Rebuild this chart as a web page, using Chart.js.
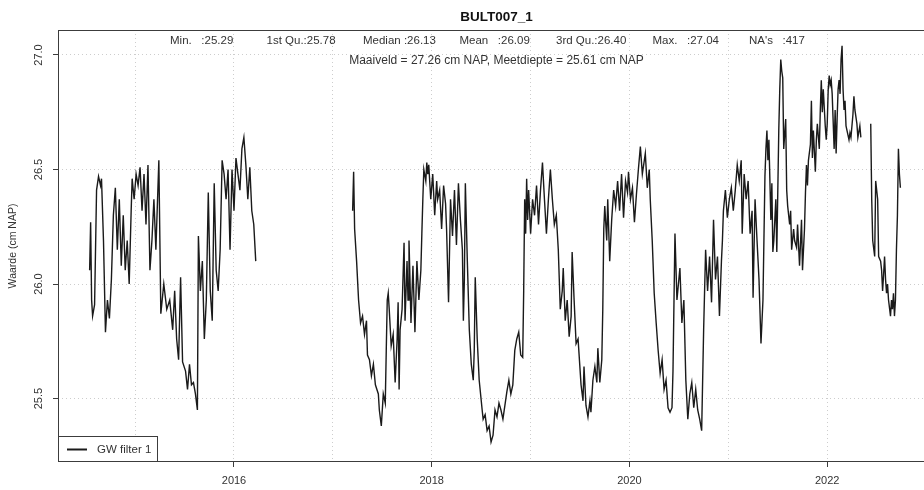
<!DOCTYPE html>
<html lang="nl">
  <head>
    <meta charset="UTF-8" />
    <title>BULT007_1</title>
    <style>
      html,
      body {
        margin: 0;
        padding: 0;
        background: #fff;
        overflow: hidden;
      }
      #wrap {
        width: 936px;
        height: 490px;
      }
    </style>
  </head>
  <body>
    <div id="wrap"><canvas id="gwChart" width="936" height="490"></canvas></div>

    <script src="https://cdn.jsdelivr.net/npm/chart.js@4.4.0/dist/chart.umd.min.js"></script>
    <script>
      const yearsA = [
        2014.54, 2014.55, 2014.56, 2014.57, 2014.59, 2014.61, 2014.63, 2014.65, 2014.66, 2014.68,
        2014.70, 2014.72, 2014.74, 2014.76, 2014.78, 2014.80, 2014.82, 2014.84, 2014.86, 2014.88,
        2014.90, 2014.92, 2014.94, 2014.96, 2014.97, 2014.99, 2015.01, 2015.03, 2015.05, 2015.07,
        2015.09, 2015.11, 2015.13, 2015.15, 2015.17, 2015.19, 2015.21, 2015.24, 2015.26, 2015.29,
        2015.32, 2015.35, 2015.38, 2015.40, 2015.42, 2015.44, 2015.46, 2015.48, 2015.51, 2015.53,
        2015.55, 2015.57, 2015.59, 2015.61, 2015.63, 2015.64, 2015.66, 2015.68, 2015.70, 2015.72,
        2015.74, 2015.76, 2015.78, 2015.80, 2015.82, 2015.84, 2015.86, 2015.88, 2015.90, 2015.92,
        2015.94, 2015.96, 2015.98, 2016.00, 2016.02, 2016.04, 2016.06, 2016.08, 2016.10, 2016.12,
        2016.14, 2016.16, 2016.18, 2016.20, 2016.22
      ];
      const valuesA = [
        26.06, 26.27, 25.93, 25.86, 25.91, 26.41, 26.47, 26.43, 26.46, 26.19,
        25.79, 25.93, 25.85, 26.02, 26.30, 26.42, 26.15, 26.37, 26.08, 26.30,
        26.06, 26.19, 26.00, 26.32, 26.46, 26.37, 26.48, 26.43, 26.51, 26.32,
        26.48, 26.26, 26.52, 26.06, 26.19, 26.37, 26.15, 26.54, 25.87, 26.00,
        25.89, 25.93, 25.80, 25.97, 25.76, 25.67, 26.03, 25.66, 25.62, 25.54,
        25.65, 25.56, 25.57, 25.52, 25.45, 26.21, 25.97, 26.10, 25.76, 25.93,
        26.40, 25.97, 25.84, 26.44, 26.06, 25.97, 26.15, 26.54, 26.48, 26.37,
        26.50, 26.15, 26.50, 26.32, 26.55, 26.48, 26.41, 26.59, 26.64, 26.52,
        26.37, 26.51, 26.32, 26.26, 26.10
      ];

      const yearsB = [
        2017.20, 2017.21, 2017.22, 2017.24, 2017.26, 2017.28, 2017.30, 2017.32, 2017.34, 2017.35,
        2017.37, 2017.39, 2017.41, 2017.43, 2017.46, 2017.47, 2017.49, 2017.51, 2017.53, 2017.54,
        2017.55, 2017.56, 2017.57, 2017.59, 2017.61, 2017.63, 2017.65, 2017.66, 2017.67, 2017.68,
        2017.70, 2017.72, 2017.73, 2017.75, 2017.76, 2017.77, 2017.78, 2017.79, 2017.81, 2017.83,
        2017.85, 2017.87, 2017.89, 2017.90, 2017.91, 2017.92, 2017.94, 2017.95, 2017.96, 2017.97,
        2017.99, 2018.01, 2018.03, 2018.05, 2018.06, 2018.08, 2018.10, 2018.12, 2018.14, 2018.15,
        2018.17, 2018.19, 2018.21, 2018.23, 2018.25, 2018.27, 2018.29, 2018.31, 2018.32, 2018.33,
        2018.34, 2018.36, 2018.38, 2018.40, 2018.42, 2018.43, 2018.44, 2018.46, 2018.48, 2018.51,
        2018.52, 2018.54, 2018.56, 2018.58, 2018.60, 2018.62, 2018.64, 2018.66, 2018.68, 2018.70,
        2018.72, 2018.74, 2018.76, 2018.78, 2018.80, 2018.82, 2018.84, 2018.86, 2018.88, 2018.90,
        2018.92, 2018.93, 2018.94, 2018.95, 2018.96, 2018.97, 2018.98, 2019.00, 2019.02, 2019.04,
        2019.06, 2019.08, 2019.10, 2019.12, 2019.14, 2019.16, 2019.18, 2019.20, 2019.22, 2019.24,
        2019.26, 2019.28, 2019.30, 2019.32, 2019.33, 2019.35, 2019.37, 2019.39, 2019.41, 2019.42,
        2019.44, 2019.46, 2019.48, 2019.51, 2019.53, 2019.54, 2019.56, 2019.58, 2019.60, 2019.61,
        2019.63, 2019.65, 2019.67, 2019.68, 2019.70, 2019.72, 2019.73, 2019.74, 2019.75, 2019.77,
        2019.78, 2019.80, 2019.82, 2019.84, 2019.86, 2019.88, 2019.90, 2019.92, 2019.94, 2019.96,
        2019.98, 2019.99, 2020.01, 2020.03, 2020.05, 2020.07, 2020.09, 2020.11, 2020.13, 2020.15,
        2020.16, 2020.18, 2020.20, 2020.21, 2020.23, 2020.25, 2020.27, 2020.29, 2020.31, 2020.33,
        2020.35, 2020.37, 2020.39, 2020.41, 2020.43, 2020.44, 2020.46, 2020.48, 2020.51, 2020.53,
        2020.55, 2020.57, 2020.59, 2020.61, 2020.63, 2020.65, 2020.67, 2020.69, 2020.71, 2020.73,
        2020.75, 2020.77, 2020.79, 2020.81, 2020.83, 2020.85, 2020.87, 2020.89, 2020.91, 2020.93,
        2020.94, 2020.95, 2020.97, 2020.99, 2021.01, 2021.03, 2021.05, 2021.07, 2021.09, 2021.11,
        2021.13, 2021.14, 2021.16, 2021.18, 2021.20, 2021.22, 2021.24, 2021.25, 2021.27, 2021.29,
        2021.31, 2021.33, 2021.35, 2021.37, 2021.38, 2021.39, 2021.40, 2021.41, 2021.43, 2021.44,
        2021.45, 2021.46, 2021.48, 2021.49, 2021.51, 2021.52, 2021.53, 2021.54, 2021.55, 2021.56,
        2021.58, 2021.59, 2021.60, 2021.62, 2021.63, 2021.64, 2021.66, 2021.67, 2021.69, 2021.70,
        2021.72, 2021.74, 2021.75, 2021.77, 2021.78, 2021.79, 2021.80, 2021.81, 2021.83, 2021.84,
        2021.85, 2021.86, 2021.88, 2021.89, 2021.90, 2021.92, 2021.93, 2021.94, 2021.95, 2021.96,
        2021.98, 2021.99, 2022.00, 2022.01, 2022.02, 2022.03, 2022.04, 2022.05, 2022.07, 2022.08,
        2022.09, 2022.10, 2022.11, 2022.12, 2022.13, 2022.14, 2022.15, 2022.16, 2022.17, 2022.18,
        2022.19, 2022.21, 2022.22, 2022.23, 2022.24, 2022.26, 2022.27, 2022.28, 2022.30, 2022.31,
        2022.33, 2022.34
      ];
      const valuesB = [
        26.32, 26.49, 26.24, 26.10, 25.93, 25.83, 25.86, 25.78, 25.84, 25.69,
        25.67, 25.60, 25.65, 25.56, 25.52, 25.45, 25.38, 25.52, 25.48, 25.71,
        25.93, 25.96, 25.89, 25.73, 25.78, 25.57, 25.76, 25.92, 25.54, 25.80,
        25.89, 26.18, 25.84, 26.10, 25.93, 26.19, 26.02, 25.83, 26.08, 25.79,
        26.10, 25.93, 26.06, 26.22, 26.37, 26.50, 26.45, 26.53, 26.48, 26.52,
        26.37, 26.48, 26.30, 26.45, 26.37, 26.41, 26.24, 26.43, 26.35, 26.24,
        25.92, 26.37, 26.21, 26.41, 26.17, 26.44, 26.28, 26.15, 25.84, 26.02,
        26.44, 26.10, 25.80, 25.65, 25.58, 25.71, 26.03, 25.76, 25.58, 25.45,
        25.41, 25.43, 25.36, 25.38, 25.31, 25.34, 25.45, 25.42, 25.48, 25.45,
        25.41, 25.47, 25.53, 25.58, 25.52, 25.56, 25.71, 25.76, 25.79, 25.69,
        25.68, 25.97, 26.37, 26.22, 26.46, 26.28, 26.41, 26.22, 26.37, 26.30,
        26.43, 26.26, 26.41, 26.53, 26.37, 26.22, 26.37, 26.50, 26.37, 26.26,
        26.30, 26.15, 25.89, 25.97, 26.07, 25.84, 25.93, 25.77, 25.86, 26.14,
        25.93, 25.74, 25.76, 25.56, 25.49, 25.64, 25.47, 25.42, 25.49, 25.44,
        25.58, 25.64, 25.57, 25.72, 25.57, 25.67, 25.89, 26.24, 26.34, 26.19,
        26.37, 26.10, 26.28, 26.41, 26.34, 26.45, 26.32, 26.48, 26.29, 26.45,
        26.40, 26.49, 26.37, 26.42, 26.27, 26.39, 26.50, 26.60, 26.48, 26.54,
        26.57, 26.42, 26.50, 26.37, 26.19, 25.96, 25.83, 25.71, 25.61, 25.67,
        25.54, 25.58, 25.46, 25.44, 25.46, 25.62, 26.22, 25.93, 26.07, 25.83,
        25.93, 25.58, 25.41, 25.52, 25.57, 25.46, 25.54, 25.45, 25.41, 25.36,
        25.80, 26.15, 25.97, 26.12, 25.92, 26.28, 26.02, 26.12, 25.86, 26.10,
        26.19, 26.32, 26.41, 26.29, 26.37, 26.42, 26.32, 26.41, 26.52, 26.45,
        26.54, 26.22, 26.48, 26.37, 26.45, 26.22, 26.32, 25.94, 26.37, 26.19,
        26.02, 25.74, 25.93, 26.47, 26.59, 26.67, 26.54, 26.63, 26.28, 26.44,
        26.14, 26.19, 26.37, 26.14, 26.67, 26.85, 26.98, 26.93, 26.90, 26.59,
        26.72, 26.41, 26.34, 26.26, 26.32, 26.15, 26.24, 26.19, 26.16, 26.26,
        26.08, 26.28, 26.06, 26.24, 26.40, 26.52, 26.43, 26.54, 26.61, 26.80,
        26.55, 26.67, 26.49, 26.63, 26.70, 26.59, 26.76, 26.89, 26.75, 26.85,
        26.69, 26.63, 26.70, 26.85, 26.91, 26.87, 26.89, 26.83, 26.59, 26.76,
        26.57, 26.72, 26.85, 26.89, 26.83, 26.98, 27.04, 26.85, 26.76, 26.80,
        26.69, 26.65, 26.63, 26.66, 26.64, 26.74, 26.82, 26.76, 26.70, 26.64,
        26.69, 26.64
      ];

      const yearsC = [
        2022.44, 2022.45, 2022.46, 2022.48, 2022.49, 2022.51, 2022.52, 2022.54, 2022.55, 2022.56,
        2022.57, 2022.58, 2022.59, 2022.60, 2022.61, 2022.62, 2022.64, 2022.65, 2022.66, 2022.67,
        2022.68, 2022.69, 2022.70, 2022.71, 2022.72, 2022.73, 2022.74
      ];
      const valuesC = [
        26.70, 26.37, 26.19, 26.12, 26.45, 26.37, 26.12, 26.10, 26.06, 25.97,
        26.04, 26.12, 26.02, 25.96, 26.00, 25.93, 25.86, 25.93, 25.89, 25.96,
        25.86, 25.93, 26.15, 26.30, 26.59, 26.48, 26.42
      ];

      const yearTicks = [2015, 2016, 2017, 2018, 2019, 2020, 2021, 2022];
      const valueTicks = [25.5, 26.0, 26.5, 27.0];

      const summaryLabels = ["Min.", "1st Qu.", "Median", "Mean", "3rd Qu.", "Max.", "NA's"];
      const summaryValues = ["25.29", "25.78", "26.13", "26.09", "26.40", "27.04", "417"];

      const chartTitle = "BULT007_1";
      const subTitle = "Maaiveld = 27.26 cm NAP, Meetdiepte = 25.61 cm NAP";
      const seriesLabel = "GW filter 1";

      const FONT = "'Liberation Sans', Arial, sans-serif";
      Chart.defaults.font.family = FONT;

      // glue the stretches together, a null point between them breaks the line
      const toPoints = (xs, ys) => xs.map((x, i) => ({ x: x, y: ys[i] }));
      const points = [].concat(
        toPoints(yearsA, valuesA),
        [{ x: 2016.7, y: null }],
        toPoints(yearsB, valuesB),
        [{ x: 2022.39, y: null }],
        toPoints(yearsC, valuesC)
      );

      // R-ish decorations: box, title, summary text, legend
      const rFrame = {
        id: "rFrame",
        afterDraw(chart) {
          const ctx = chart.ctx;
          const a = chart.chartArea;
          const mid = (a.left + a.right) / 2;
          ctx.save();

          ctx.strokeStyle = "#3c3c3c";
          ctx.lineWidth = 1;
          ctx.strokeRect(a.left + 0.5, a.top + 0.5, a.right - a.left - 1, a.bottom - a.top - 1);

          ctx.fillStyle = "#111";
          ctx.textAlign = "center";
          ctx.textBaseline = "middle";
          ctx.font = "bold 13.5px " + FONT;
          ctx.fillText(chartTitle, mid, 17);

          ctx.fillStyle = "#333";
          ctx.font = "11.5px " + FONT;
          ctx.textAlign = "left";
          summaryLabels.forEach((lab, i) => {
            ctx.fillText(lab.padEnd(7, " ") + ":" + summaryValues[i], a.left + 112 + i * 96.5, 41);
          });

          ctx.font = "12px " + FONT;
          ctx.textAlign = "center";
          ctx.fillText(subTitle, mid, 61);

          // legend box in the lower left corner
          const lx = a.left, ly = a.bottom - 26;
          ctx.fillStyle = "#fff";
          ctx.fillRect(lx + 0.5, ly + 0.5, 99, 25);
          ctx.strokeStyle = "#3c3c3c";
          ctx.lineWidth = 1;
          ctx.strokeRect(lx + 0.5, ly + 0.5, 99, 25);
          ctx.strokeStyle = "#1a1a1a";
          ctx.lineWidth = 2;
          ctx.beginPath();
          ctx.moveTo(lx + 9, ly + 13.5);
          ctx.lineTo(lx + 29, ly + 13.5);
          ctx.stroke();
          ctx.fillStyle = "#333";
          ctx.textAlign = "left";
          ctx.font = "11.5px " + FONT;
          ctx.fillText(chart.data.datasets[0].label, lx + 39, ly + 14);

          ctx.restore();
        },
      };

      new Chart("gwChart", {
        type: "line",
        data: {
          datasets: [
            {
              label: seriesLabel,
              data: points,
              borderColor: "#1a1a1a",
              borderWidth: 1.4,
              pointRadius: 0,
              tension: 0,
              spanGaps: false,
            },
          ],
        },
        options: {
          responsive: false,
          animation: false,
          devicePixelRatio: 1,
          layout: { padding: { top: 30, right: 1, left: 0, bottom: 0 } },
          plugins: {
            legend: { display: false },
            tooltip: { enabled: false },
          },
          scales: {
            x: {
              type: "linear",
              min: 2014.22,
              max: 2023.09,
              afterBuildTicks: (s) => {
                s.ticks = yearTicks.map((v) => ({ value: v }));
              },
              afterFit: (s) => {
                s.height = 28;
              },
              ticks: {
                autoSkip: false,
                maxRotation: 0,
                padding: 7,
                color: "#333",
                font: { size: 11 },
                callback: (v) => (v % 2 === 0 ? String(v) : ""),
              },
              grid: {
                color: "#cdcdcd",
                tickLength: 5,
                tickColor: (c) =>
                  c.tick && c.tick.value % 2 === 0 ? "#3c3c3c" : "rgba(0,0,0,0)",
              },
              border: { display: false, dash: [1, 3] },
            },
            y: {
              min: 25.223,
              max: 27.109,
              afterBuildTicks: (s) => {
                s.ticks = valueTicks.map((v) => ({ value: v }));
              },
              afterFit: (s) => {
                s.width = 58;
              },
              title: {
                display: true,
                text: "Waarde (cm NAP)",
                color: "#333",
                font: { size: 10.5 },
                padding: { top: 7, bottom: 0 },
              },
              ticks: {
                minRotation: 90,
                maxRotation: 90,
                crossAlign: "center",
                padding: 3,
                color: "#333",
                font: { size: 11 },
                callback: (v) => v.toFixed(1),
              },
              grid: { color: "#cdcdcd", tickLength: 5, tickColor: "#3c3c3c" },
              border: { display: false, dash: [1, 3] },
            },
          },
        },
        plugins: [rFrame],
      });
    </script>
  </body>
</html>
